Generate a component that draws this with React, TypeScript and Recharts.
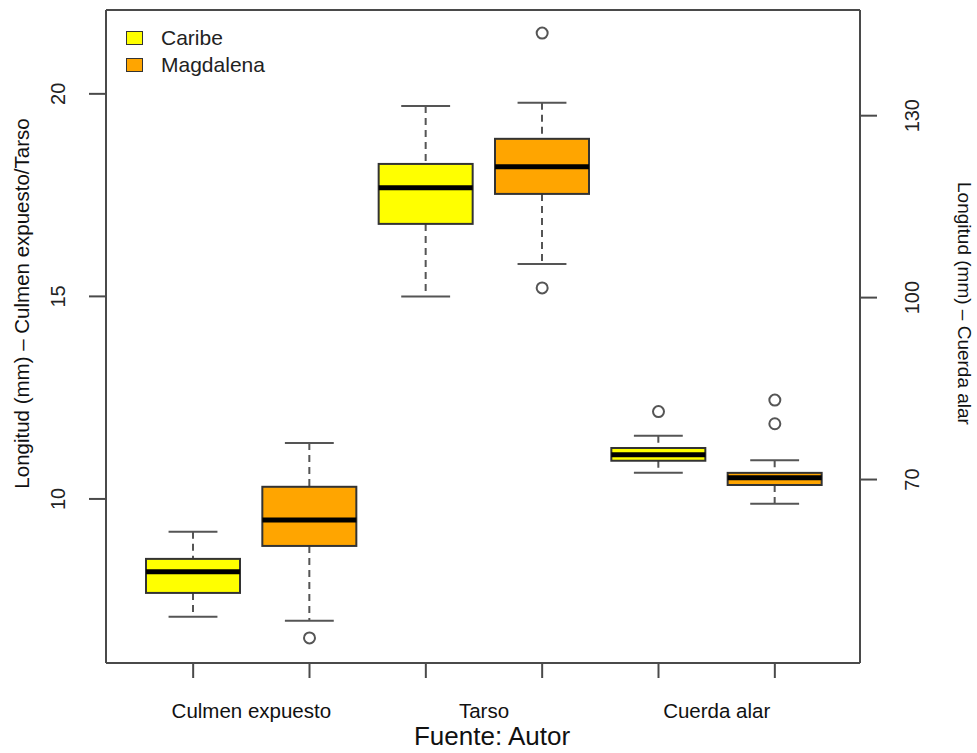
import React from 'react';
import { ComposedChart, Bar, Scatter, XAxis, YAxis, Legend, Label, ReferenceLine } from 'recharts';

const categories = ['Culmen expuesto', 'Tarso', 'Cuerda alar'];
const groups = ['Caribe', 'Magdalena'];
const groupColors = ['#FFFF00', '#FFA500'];

// box order: culmen caribe, culmen magdalena, tarso caribe, tarso magdalena, cuerda caribe, cuerda magdalena
// culmen + tarso read on the left axis, cuerda alar on the right axis (mm)
const whiskerLow = [7.09, 6.99, 15.0, 15.8, 71.1, 66.0];
const q1 = [7.68, 8.84, 16.79, 17.53, 73.1, 69.1];
const median = [8.2, 9.48, 17.68, 18.2, 74.1, 70.3];
const q3 = [8.52, 10.3, 18.27, 18.89, 75.2, 71.1];
const whiskerHigh = [9.19, 11.38, 19.7, 19.78, 77.2, 73.2];
const outliers = [[], [6.57], [], [21.5, 15.21], [81.2], [83.1, 79.2]];

const leftTicks = [10, 15, 20];
const rightTicks = [70, 100, 130];
const leftDomain = [5.95, 22.07];
const rightFactor = 6.68; // right axis = left axis * factor
const rightCategory = 'Cuerda alar';

const font = 'Liberation Sans, Arial, sans-serif';
const axisColor = '#4a4a4a';

const rows = whiskerLow.map((_, i) => {
  const category = categories[Math.floor(i / 2)];
  const onRight = category === rightCategory;
  const f = onRight ? 1 / rightFactor : 1;
  const out = outliers[i];
  return {
    key: category + '|' + groups[i % 2],
    color: groupColors[i % 2],
    range: [whiskerLow[i] * f, whiskerHigh[i] * f],
    lo: whiskerLow[i] * f,
    q1: q1[i] * f,
    med: median[i] * f,
    q3: q3[i] * f,
    hi: whiskerHigh[i] * f,
    outL1: onRight ? null : (out[0] ?? null),
    outL2: onRight ? null : (out[1] ?? null),
    outR1: onRight ? (out[0] ?? null) : null,
    outR2: onRight ? (out[1] ?? null) : null,
  };
});

const BoxShape = (props: any) => {
  const { x, y, width, height, payload } = props;
  if (!payload || height == null) return <g />;
  const top = Math.min(y, y + height);
  const bottom = Math.max(y, y + height);
  const px = (v: number) => top + ((payload.hi - v) / (payload.hi - payload.lo)) * (bottom - top);
  const cx = x + width / 2;
  const cap = width * 0.26;
  const yq3 = px(payload.q3);
  const yq1 = px(payload.q1);
  const ym = px(payload.med);
  return (
    <g>
      <line x1={cx} x2={cx} y1={top} y2={yq3} stroke="#555" strokeWidth={2} strokeDasharray="7 5" />
      <line x1={cx} x2={cx} y1={yq1} y2={bottom} stroke="#555" strokeWidth={2} strokeDasharray="7 5" />
      <line x1={cx - cap} x2={cx + cap} y1={top} y2={top} stroke="#555" strokeWidth={2} />
      <line x1={cx - cap} x2={cx + cap} y1={bottom} y2={bottom} stroke="#555" strokeWidth={2} />
      <rect x={x} y={yq3} width={width} height={yq1 - yq3} fill={payload.color} stroke="#333" strokeWidth={2} />
      <line x1={x} x2={x + width} y1={ym} y2={ym} stroke="#000" strokeWidth={5} />
    </g>
  );
};

const outlierShape = (key: string) => (props: any) => {
  const { cx, cy, payload } = props;
  if (!payload || payload[key] == null || cy == null || isNaN(cy)) return <g />;
  return <circle cx={cx} cy={cy} r={5.5} fill="#fff" stroke="#555" strokeWidth={2} />;
};

const XTick = ({ x, y, payload }: any) => {
  const i = payload.index;
  if (i % 2 !== 0) return <g />;
  const step = 116.4;
  return (
    <text x={x + step / 2} y={y + 38} textAnchor="middle" fontFamily={font} fontSize={20.5} fill="#111">
      {categories[i / 2]}
    </text>
  );
};

const LeftTick = ({ x, y, payload }: any) => (
  <text x={x - 22} y={y} transform={`rotate(-90 ${x - 22} ${y})`} textAnchor="middle" fontFamily={font} fontSize={20} fill="#222">
    {payload.value}
  </text>
);

const RightTick = ({ x, y, payload }: any) => (
  <text x={x + 40} y={y} transform={`rotate(-90 ${x + 40} ${y})`} textAnchor="middle" fontFamily={font} fontSize={20} fill="#222">
    {payload.value}
  </text>
);

const LegendBox = () => (
  <div style={{ fontFamily: font, fontSize: 21, color: '#222' }}>
    {groups.map((g, i) => (
      <div key={g} style={{ display: 'flex', alignItems: 'center', height: 27 }}>
        <span style={{ width: 15, height: 12, background: groupColors[i], border: '1.5px solid #333', marginRight: 18 }} />
        <span>{g}</span>
      </div>
    ))}
  </div>
);

export default function App() {
  return (
    <div style={{ position: 'absolute', left: 0, top: 0 }}>
      <ComposedChart width={977} height={753} data={rows} margin={{ top: 10, right: 0, bottom: 0, left: 0 }}>
        <XAxis
          dataKey="key"
          height={90}
          padding={{ left: 29, right: 27 }}
          interval={0}
          tickSize={15}
          tick={<XTick />}
          axisLine={{ stroke: axisColor, strokeWidth: 2 }}
          tickLine={{ stroke: axisColor, strokeWidth: 2 }}
        >
          <Label
            content={({ viewBox }: any) => (
              <text x={viewBox.x + viewBox.width / 2 + 9} y={viewBox.y + viewBox.height - 8} textAnchor="middle" fontFamily={font} fontSize={26} fill="#111">
                Fuente: Autor
              </text>
            )}
          />
        </XAxis>
        <YAxis
          yAxisId="left"
          width={106}
          domain={leftDomain}
          allowDataOverflow
          ticks={leftTicks}
          tickSize={17}
          tick={<LeftTick />}
          axisLine={{ stroke: axisColor, strokeWidth: 2 }}
          tickLine={{ stroke: axisColor, strokeWidth: 2 }}
        >
          <Label
            content={({ viewBox }: any) => {
              const cy = viewBox.y + viewBox.height / 2 - 33;
              return (
                <text x={29} y={cy} transform={`rotate(-90 29 ${cy})`} textAnchor="middle" fontFamily={font} fontSize={20.5} fill="#111">
                  Longitud (mm) – Culmen expuesto/Tarso
                </text>
              );
            }}
          />
        </YAxis>
        <YAxis
          yAxisId="right"
          orientation="right"
          width={117}
          domain={[leftDomain[0] * rightFactor, leftDomain[1] * rightFactor]}
          allowDataOverflow
          ticks={rightTicks}
          tickSize={17}
          tick={<RightTick />}
          axisLine={{ stroke: axisColor, strokeWidth: 2 }}
          tickLine={{ stroke: axisColor, strokeWidth: 2 }}
        >
          <Label
            content={({ viewBox }: any) => {
              const cy = viewBox.y + viewBox.height / 2 - 33;
              return (
                <text x={958} y={cy} transform={`rotate(90 958 ${cy})`} textAnchor="middle" fontFamily={font} fontSize={19} fill="#111">
                  Longitud (mm) – Cuerda alar
                </text>
              );
            }}
          />
        </YAxis>
        <ReferenceLine yAxisId="left" y={leftDomain[1]} stroke={axisColor} strokeWidth={2} />
        <Legend
          layout="horizontal"
          verticalAlign="middle"
          align="center"
          content={<LegendBox />}
          wrapperStyle={{ position: 'absolute', left: 126, top: 24, width: 200, height: 60 }}
        />
        <Bar yAxisId="left" dataKey="range" barSize={94} shape={BoxShape} isAnimationActive={false} />
        <Scatter yAxisId="left" dataKey="outL1" shape={outlierShape('outL1')} isAnimationActive={false} />
        <Scatter yAxisId="left" dataKey="outL2" shape={outlierShape('outL2')} isAnimationActive={false} />
        <Scatter yAxisId="right" dataKey="outR1" shape={outlierShape('outR1')} isAnimationActive={false} />
        <Scatter yAxisId="right" dataKey="outR2" shape={outlierShape('outR2')} isAnimationActive={false} />
      </ComposedChart>
    </div>
  );
}
